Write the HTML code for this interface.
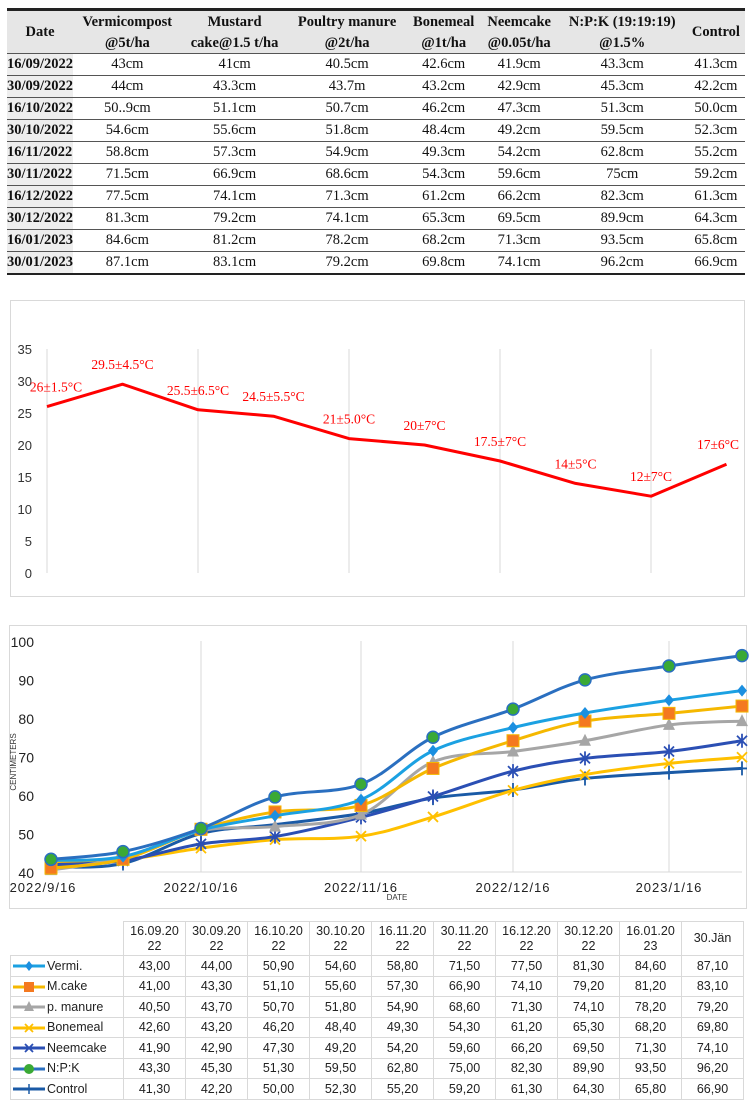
<!DOCTYPE html>
<html><head><meta charset="utf-8">
<style>
body{margin:0;width:754px;height:1109px;background:#fff;position:relative;overflow:hidden;font-family:"Liberation Serif",serif;}
.t1{position:absolute;left:7px;top:8px;width:738px;border-collapse:collapse;font-size:14.5px;color:#111;}
.t1 th{background:#e6e6e6;font-weight:bold;padding:0;height:21px;line-height:20px;}
.t1 td{padding:0;height:21px;text-align:center;border-top:1px solid #555;line-height:21px;}
.t1 td:first-child{background:#eee;font-weight:bold;text-align:left;}
.t1 thead tr:first-child th{border-top:3px solid #222;}
.t1 tbody tr:last-child td{border-bottom:2px solid #222;}
.box{position:absolute;border:1px solid #d9d9d9;}
svg text{font-family:"Liberation Sans",sans-serif;}
.t2{position:absolute;left:10px;top:921px;border-collapse:collapse;font-family:"Liberation Sans",sans-serif;font-size:12.5px;color:#222;}
.t2 td{border:1px solid #d9d9d9;text-align:center;height:19.5px;padding:0;width:61px;}
.t2 tr.hdr td{height:33px;line-height:15px;}
.t2 td.lab{width:112px;text-align:left;white-space:nowrap;}
</style></head><body>
<table class="t1">
<thead>
<tr><th rowspan="2" style="width:52px">Date</th><th>Vermicompost</th><th>Mustard</th><th>Poultry manure</th><th>Bonemeal</th><th>Neemcake</th><th>N:P:K (19:19:19)</th><th rowspan="2">Control</th></tr>
<tr><th>@5t/ha</th><th>cake@1.5 t/ha</th><th>@2t/ha</th><th>@1t/ha</th><th>@0.05t/ha</th><th>@1.5%</th></tr>
</thead>
<tbody>
<tr><td>16/09/2022</td><td>43cm</td><td>41cm</td><td>40.5cm</td><td>42.6cm</td><td>41.9cm</td><td>43.3cm</td><td>41.3cm</td></tr>
<tr><td>30/09/2022</td><td>44cm</td><td>43.3cm</td><td>43.7m</td><td>43.2cm</td><td>42.9cm</td><td>45.3cm</td><td>42.2cm</td></tr>
<tr><td>16/10/2022</td><td>50..9cm</td><td>51.1cm</td><td>50.7cm</td><td>46.2cm</td><td>47.3cm</td><td>51.3cm</td><td>50.0cm</td></tr>
<tr><td>30/10/2022</td><td>54.6cm</td><td>55.6cm</td><td>51.8cm</td><td>48.4cm</td><td>49.2cm</td><td>59.5cm</td><td>52.3cm</td></tr>
<tr><td>16/11/2022</td><td>58.8cm</td><td>57.3cm</td><td>54.9cm</td><td>49.3cm</td><td>54.2cm</td><td>62.8cm</td><td>55.2cm</td></tr>
<tr><td>30/11/2022</td><td>71.5cm</td><td>66.9cm</td><td>68.6cm</td><td>54.3cm</td><td>59.6cm</td><td>75cm</td><td>59.2cm</td></tr>
<tr><td>16/12/2022</td><td>77.5cm</td><td>74.1cm</td><td>71.3cm</td><td>61.2cm</td><td>66.2cm</td><td>82.3cm</td><td>61.3cm</td></tr>
<tr><td>30/12/2022</td><td>81.3cm</td><td>79.2cm</td><td>74.1cm</td><td>65.3cm</td><td>69.5cm</td><td>89.9cm</td><td>64.3cm</td></tr>
<tr><td>16/01/2023</td><td>84.6cm</td><td>81.2cm</td><td>78.2cm</td><td>68.2cm</td><td>71.3cm</td><td>93.5cm</td><td>65.8cm</td></tr>
<tr><td>30/01/2023</td><td>87.1cm</td><td>83.1cm</td><td>79.2cm</td><td>69.8cm</td><td>74.1cm</td><td>96.2cm</td><td>66.9cm</td></tr>
</tbody></table>

<div class="box" style="left:10px;top:300px;width:733px;height:295px"></div>
<svg id="temp" style="position:absolute;left:0;top:0" width="754" height="600"></svg>

<div class="box" style="left:9px;top:625px;width:736px;height:282px"></div>
<svg id="growth" style="position:absolute;left:0;top:600px" width="754" height="310"></svg>

<table class="t2">
<thead><tr class="hdr"><td class="lab" style="border-top:none;border-left:none"></td><td>16.09.20<br>22</td><td>30.09.20<br>22</td><td>16.10.20<br>22</td><td>30.10.20<br>22</td><td>16.11.20<br>22</td><td>30.11.20<br>22</td><td>16.12.20<br>22</td><td>30.12.20<br>22</td><td>16.01.20<br>23</td><td>30.Jän</td></tr></thead>
<tbody id="t2b"></tbody>
</table>

<script>
const NS="http://www.w3.org/2000/svg";
function mk(p,tag,at,txt){const e=document.createElementNS(NS,tag);for(const k in at)e.setAttribute(k,at[k]);if(txt!=null)e.textContent=txt;p.appendChild(e);return e;}

// ---- temperature chart data ----
const tempValues=[26,29.5,25.5,24.5,21,20,17.5,14,12,17];
const tempLabels=["26±1.5°C","29.5±4.5°C","25.5±6.5°C","24.5±5.5°C","21±5.0°C","20±7°C","17.5±7°C","14±5°C","12±7°C","17±6°C"];
const tempTicks=[0,5,10,15,20,25,30,35];
(function(){
  const s=document.getElementById('temp');
  const x0=47,dx=75.5,y=v=>573-v*6.4;
  const X=i=>x0+i*dx;
  [0,2,4,6,8].forEach(i=>{const l=mk(s,'line',{x1:X(i),x2:X(i),y1:349,y2:573,stroke:'#d9d9d9','stroke-width':1});
  
  });
  tempTicks.forEach(t=>{const e=mk(s,'text',{x:32,y:y(t)+5,'text-anchor':'end','font-size':13,fill:'#333'},t);
  
  });
  const p=mk(s,'polyline',{points:tempValues.map((v,i)=>X(i)+','+y(v)).join(' '),fill:'none',stroke:'#ff0000','stroke-width':3,'stroke-linejoin':'round'});
  
  
  tempValues.forEach((v,i)=>{let cx=X(i);if(i==0)cx=56;if(i==9)cx=718;
    const e=mk(s,'text',{x:cx,y:y(v)-15,'text-anchor':'middle','font-size':13.5,fill:'#ff0000'},tempLabels[i]);
    e.style.fontFamily='"Liberation Serif",serif';
    
    });
})();

// ---- growth chart data ----
const dates=["16.09.2022","30.09.2022","16.10.2022","30.10.2022","16.11.2022","30.11.2022","16.12.2022","30.12.2022","16.01.2023","30.Jän"];
const xTickLabels=["2022/9/16","2022/10/16","2022/11/16","2022/12/16","2023/1/16"];
const yTicks=[40,50,60,70,80,90,100];
const vermi=[43.0,44.0,50.9,54.6,58.8,71.5,77.5,81.3,84.6,87.1];
const mcake=[41.0,43.3,51.1,55.6,57.3,66.9,74.1,79.2,81.2,83.1];
const pmanure=[40.5,43.7,50.7,51.8,54.9,68.6,71.3,74.1,78.2,79.2];
const bonemeal=[42.6,43.2,46.2,48.4,49.3,54.3,61.2,65.3,68.2,69.8];
const neemcake=[41.9,42.9,47.3,49.2,54.2,59.6,66.2,69.5,71.3,74.1];
const npk=[43.3,45.3,51.3,59.5,62.8,75.0,82.3,89.9,93.5,96.2];
const control=[41.3,42.2,50.0,52.3,55.2,59.2,61.3,64.3,65.8,66.9];
const seriesNames=["Vermi.","M.cake","p. manure","Bonemeal","Neemcake","N:P:K","Control"];
const seriesData=[vermi,mcake,pmanure,bonemeal,neemcake,npk,control];
const styles=[
 {line:'#1ba1e2',mark:'diamond',mc:'#1b8fe0'},
 {line:'#f5b800',mark:'square',mc:'#f47920'},
 {line:'#a6a6a6',mark:'triangle',mc:'#a6a6a6'},
 {line:'#ffc000',mark:'x',mc:'#ffc000'},
 {line:'#2b4fb4',mark:'star',mc:'#2b4fb4'},
 {line:'#2a6fc0',mark:'circle',mc:'#3aa935'},
 {line:'#1a5aa6',mark:'plus',mc:'#1a5aa6'}];
const drawOrder=[6,3,4,2,1,0,5];
(function(){
  const s=document.getElementById('growth');
  const xs=[51,123,201,275,361,433,513,585,669,742];
  const X=i=>xs[i];
  const Y=v=>272-(v-40)*3.85;
  [2,4,6,8].forEach(i=>{const l=mk(s,'line',{x1:X(i),x2:X(i),y1:Y(100),y2:Y(40),stroke:'#d9d9d9'});
  
  });
  const ax=mk(s,'line',{x1:48,x2:742,y1:Y(40),y2:Y(40),stroke:'#d9d9d9'});
  
  
  yTicks.forEach(t=>{const e=mk(s,'text',{x:34,y:Y(t)+6,'text-anchor':'end','font-size':14,fill:'#222'},t);
  
  });
  xTickLabels.forEach((t,k)=>{const e=mk(s,'text',{x:X(k*2)+(k==0?-8:0),y:292,'text-anchor':'middle','font-size':13,fill:'#222','letter-spacing':'1'},t);
  
  });
  const xt=mk(s,'text',{x:397,y:300,'text-anchor':'middle','font-size':8,fill:'#333'},'DATE');
  
  
  const yt=mk(s,'text',{x:0,y:0,'text-anchor':'middle','font-size':8,fill:'#333',transform:'translate(16,162) rotate(-90)'},'CENTIMETERS');
  
  
  function path(d){
    const P=d.map((v,i)=>[X(i),Y(v)]);let str='M'+P[0][0]+','+P[0][1];
    for(let i=0;i<P.length-1;i++){const p0=P[Math.max(i-1,0)],p1=P[i],p2=P[i+1],p3=P[Math.min(i+2,P.length-1)];
      const t=6;str+=' C'+(p1[0]+(p2[0]-p0[0])/t)+','+(p1[1]+(p2[1]-p0[1])/t)+' '+(p2[0]-(p3[0]-p1[0])/t)+','+(p2[1]-(p3[1]-p1[1])/t)+' '+p2[0]+','+p2[1];}
    return str;}
  function marker(g,type,x,y,c){
    let e;
    if(type=='diamond')e=mk(g,'polygon',{points:`${x},${y-6} ${x+5},${y} ${x},${y+6} ${x-5},${y}`,fill:c});
    else if(type=='square')e=mk(g,'rect',{x:x-6,y:y-6,width:12,height:12,fill:c,stroke:'#f5b800','stroke-width':1});
    else if(type=='triangle')e=mk(g,'polygon',{points:`${x},${y-7} ${x+6},${y+5} ${x-6},${y+5}`,fill:c});
    else if(type=='circle')e=mk(g,'circle',{cx:x,cy:y,r:6,fill:c,stroke:'#2a6fc0','stroke-width':1.5});
    else if(type=='x')e=mk(g,'path',{d:`M${x-5},${y-5}L${x+5},${y+5}M${x-5},${y+5}L${x+5},${y-5}`,stroke:c,'stroke-width':1.8});
    else if(type=='star')e=mk(g,'path',{d:`M${x-5},${y-5}L${x+5},${y+5}M${x-5},${y+5}L${x+5},${y-5}M${x},${y-7}L${x},${y+7}`,stroke:c,'stroke-width':1.8});
    else e=mk(g,'path',{d:`M${x-5},${y}L${x+5},${y}M${x},${y-7}L${x},${y+7}`,stroke:c,'stroke-width':1.8});
    
    
  }
  drawOrder.forEach(si=>{const st=styles[si];
    const g=mk(s,'g',{});
    
    
    const p=mk(g,'path',{d:path(seriesData[si]),fill:'none',stroke:st.line,'stroke-width':3});
    
    
    seriesData[si].forEach((v,i)=>marker(g,st.mark,X(i),Y(v),st.mc));
  });
})();

// ---- bottom table ----
(function(){
  const tb=document.getElementById('t2b');
  seriesNames.forEach((n,si)=>{
    const tr=document.createElement('tr');
    
    
    const st=styles[si];
    const td=document.createElement('td');td.className='lab';
    td.innerHTML=`<svg width="36" height="12" style="vertical-align:middle"><line x1="2" x2="34" y1="6" y2="6" stroke="${st.line}" stroke-width="3"/></svg>${n}`;
    const ms=td.querySelector('svg');
    const c=st.mc;let m;
    if(st.mark=='diamond')m=`<polygon points="18,1 22,6 18,11 14,6" fill="${c}"/>`;
    else if(st.mark=='square')m=`<rect x="13" y="1" width="10" height="10" fill="${c}"/>`;
    else if(st.mark=='triangle')m=`<polygon points="18,0 23,10 13,10" fill="${c}"/>`;
    else if(st.mark=='circle')m=`<circle cx="18" cy="6" r="5" fill="${c}"/>`;
    else if(st.mark=='plus')m=`<line x1="18" x2="18" y1="1" y2="11" stroke="${c}" stroke-width="1.5"/>`;
    else m=`<path d="M14,2L22,10M14,10L22,2" stroke="${c}" stroke-width="1.8"/>`;
    ms.insertAdjacentHTML('beforeend',m);
    
    
    tr.appendChild(td);
    seriesData[si].forEach(v=>{const c2=document.createElement('td');c2.textContent=v.toFixed(2).replace('.',',');tr.appendChild(c2);});
    tb.appendChild(tr);
  });
})();
</script>
</body></html>
